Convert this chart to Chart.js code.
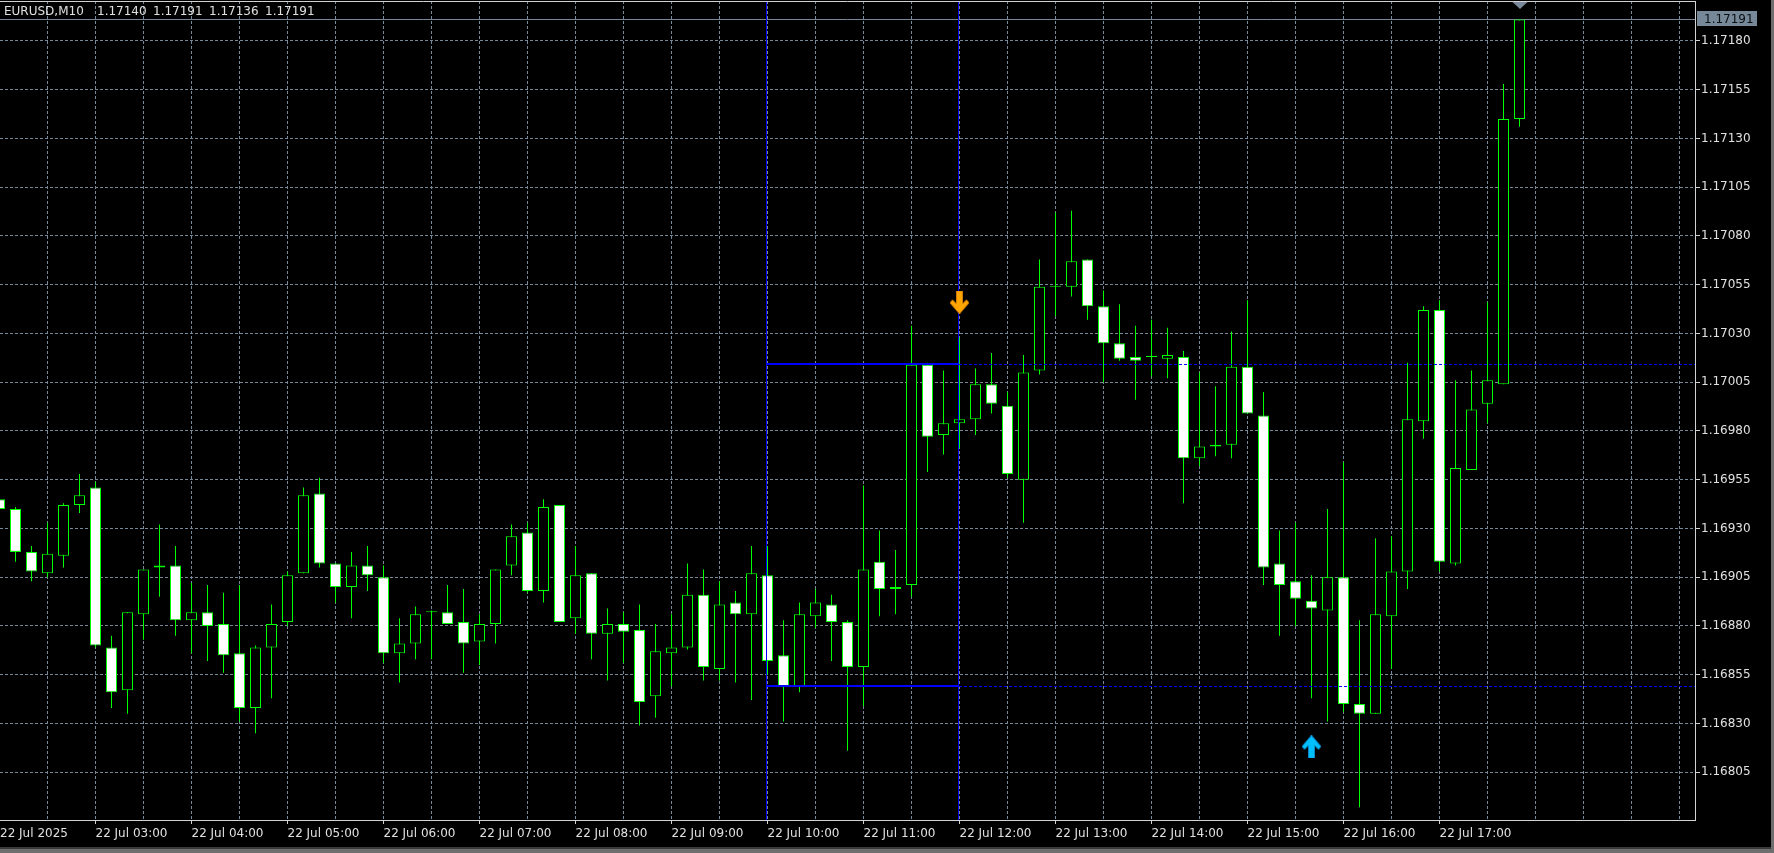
<!DOCTYPE html>
<html>
<head>
<meta charset="utf-8">
<title>EURUSD,M10</title>
<script src="https://cdn.jsdelivr.net/npm/chart.js@4.4.1/dist/chart.umd.min.js"></script>
<style>
    html, body { margin: 0; padding: 0; background: #000; overflow: hidden; }
    #chartBox { position: relative; width: 1774px; height: 853px; background: #000; }
</style>
</head>
<body>
<div id="chartBox"><canvas id="chartCanvas"></canvas></div>
<script>
const symbolName = "EURUSD,M10";

// one bar every 10 minutes, index 0 = 22 Jul 02:00
const openPrices = [
    1.16945, 1.16940, 1.16918, 1.16907, 1.16916, 1.16942, 1.16951, 1.16869, 1.16847, 1.16886,
    1.16911, 1.16911, 1.16883, 1.16887, 1.16881, 1.16866, 1.16838, 1.16869, 1.16882, 1.16907,
    1.16948, 1.16912, 1.16900, 1.16911, 1.16905, 1.16866, 1.16871, 1.16887, 1.16887, 1.16882,
    1.16872, 1.16881, 1.16911, 1.16928, 1.16898, 1.16942, 1.16884, 1.16907, 1.16876, 1.16881,
    1.16878, 1.16844, 1.16866, 1.16869, 1.16896, 1.16858, 1.16892, 1.16886, 1.16906, 1.16865,
    1.16849, 1.16885, 1.16891, 1.16882, 1.16859, 1.16913, 1.16900, 1.16901, 1.17014, 1.16978,
    1.16984, 1.16986, 1.17004, 1.16993, 1.16955, 1.17011, 1.17054, 1.17054, 1.17068, 1.17044,
    1.17025, 1.17018, 1.17018, 1.17017, 1.17018, 1.16966, 1.16973, 1.16973, 1.17013, 1.16988,
    1.16912, 1.16903, 1.16893, 1.16888, 1.16905, 1.16840, 1.16835, 1.16885, 1.16908, 1.16985,
    1.17042, 1.16912, 1.16960, 1.16994, 1.17004, 1.17140
];
const highPrices = [
    1.16950, 1.16941, 1.16921, 1.16933, 1.16943, 1.16958, 1.16954, 1.16875, 1.16887, 1.16909,
    1.16932, 1.16921, 1.16902, 1.16901, 1.16897, 1.16901, 1.16870, 1.16891, 1.16908, 1.16951,
    1.16956, 1.16912, 1.16918, 1.16921, 1.16911, 1.16884, 1.16890, 1.16888, 1.16901, 1.16899,
    1.16886, 1.16909, 1.16932, 1.16933, 1.16945, 1.16942, 1.16921, 1.16907, 1.16889, 1.16887,
    1.16891, 1.16881, 1.16886, 1.16912, 1.16909, 1.16903, 1.16898, 1.16921, 1.16921, 1.16883,
    1.16892, 1.16899, 1.16896, 1.16883, 1.16952, 1.16929, 1.16919, 1.17034, 1.17015, 1.17011,
    1.17028, 1.17012, 1.17020, 1.17000, 1.17019, 1.17068, 1.17092, 1.17093, 1.17068, 1.17052,
    1.17045, 1.17034, 1.17037, 1.17033, 1.17021, 1.17010, 1.17003, 1.17031, 1.17047, 1.17000,
    1.16929, 1.16933, 1.16906, 1.16940, 1.16964, 1.16883, 1.16925, 1.16926, 1.17015, 1.17044,
    1.17047, 1.17006, 1.17011, 1.17046, 1.17158, 1.17191
];
const lowPrices = [
    1.16938, 1.16913, 1.16903, 1.16905, 1.16910, 1.16938, 1.16869, 1.16838, 1.16835, 1.16873,
    1.16895, 1.16875, 1.16866, 1.16862, 1.16856, 1.16831, 1.16825, 1.16843, 1.16880, 1.16907,
    1.16910, 1.16892, 1.16884, 1.16898, 1.16861, 1.16851, 1.16863, 1.16863, 1.16881, 1.16856,
    1.16860, 1.16871, 1.16906, 1.16897, 1.16892, 1.16882, 1.16876, 1.16863, 1.16852, 1.16861,
    1.16829, 1.16833, 1.16849, 1.16868, 1.16852, 1.16852, 1.16851, 1.16842, 1.16855, 1.16831,
    1.16846, 1.16879, 1.16862, 1.16816, 1.16839, 1.16885, 1.16886, 1.16895, 1.16959, 1.16968,
    1.16971, 1.16978, 1.16989, 1.16956, 1.16933, 1.17009, 1.17039, 1.17049, 1.17037, 1.17005,
    1.17016, 1.16996, 1.17008, 1.17007, 1.16943, 1.16962, 1.16967, 1.16966, 1.16989, 1.16901,
    1.16875, 1.16880, 1.16843, 1.16831, 1.16836, 1.16787, 1.16835, 1.16858, 1.16899, 1.16976,
    1.16908, 1.16911, 1.16960, 1.16984, 1.17004, 1.17136
];
const closePrices = [
    1.16940, 1.16918, 1.16908, 1.16917, 1.16942, 1.16947, 1.16870, 1.16846, 1.16887, 1.16909,
    1.16910, 1.16883, 1.16887, 1.16880, 1.16865, 1.16838, 1.16869, 1.16881, 1.16906, 1.16947,
    1.16912, 1.16900, 1.16911, 1.16906, 1.16866, 1.16871, 1.16886, 1.16887, 1.16881, 1.16871,
    1.16881, 1.16909, 1.16926, 1.16898, 1.16941, 1.16882, 1.16906, 1.16876, 1.16881, 1.16877,
    1.16841, 1.16867, 1.16869, 1.16896, 1.16859, 1.16891, 1.16886, 1.16907, 1.16862, 1.16849,
    1.16886, 1.16892, 1.16882, 1.16859, 1.16909, 1.16899, 1.16899, 1.17014, 1.16977, 1.16984,
    1.16986, 1.17004, 1.16994, 1.16958, 1.17010, 1.17054, 1.17054, 1.17067, 1.17044, 1.17025,
    1.17017, 1.17016, 1.17018, 1.17019, 1.16966, 1.16972, 1.16972, 1.17013, 1.16989, 1.16910,
    1.16901, 1.16894, 1.16889, 1.16905, 1.16840, 1.16835, 1.16886, 1.16908, 1.16986, 1.17042,
    1.16913, 1.16961, 1.16991, 1.17006, 1.17140, 1.17191
];

const firstTimeLabel = "22 Jul 2025";
const timeTickIndex = [6, 12, 18, 24, 30, 36, 42, 48, 54, 60, 66, 72, 78, 84, 90];
const timeTickLabels = [
    "22 Jul 03:00", "22 Jul 04:00", "22 Jul 05:00", "22 Jul 06:00", "22 Jul 07:00",
    "22 Jul 08:00", "22 Jul 09:00", "22 Jul 10:00", "22 Jul 11:00", "22 Jul 12:00",
    "22 Jul 13:00", "22 Jul 14:00", "22 Jul 15:00", "22 Jul 16:00", "22 Jul 17:00"
];
const priceTicks = [
    1.16805, 1.16830, 1.16855, 1.16880, 1.16905, 1.16930, 1.16955, 1.16980,
    1.17005, 1.17030, 1.17055, 1.17080, 1.17105, 1.17130, 1.17155, 1.17180
];

// box drawn between two vertical lines
const rangeFrom = 48;
const rangeTo = 60;
const rangeHigh = 1.17014;
const rangeLow = 1.16849;

const sellArrows = [{ x: 60, y: 1.17046 }];
const buyArrows = [{ x: 82, y: 1.16818 }];
const bidPrice = 1.17191;

// visible window of the chart
const xMin = 0.03125;
const xMax = 105.96875;
const yMin = 1.1678051;
const yMax = 1.1720051;

const candleGreen = "#00ff00";
const gridColor = "#778899";
const axisColor = "#d2d2d2";
const textColor = "#e0e0e0";
const uiFont = "\"DejaVu Sans\"";

function makeArrow(fill, edge, pointingUp) {
    let c = document.createElement("canvas");
    c.width = 19;
    c.height = 23;
    let g = c.getContext("2d");
    let pts = [[6.5, 0], [12.5, 0], [12.5, 13], [16.5, 9], [19, 12], [9.5, 23], [0, 12], [2.5, 9], [6.5, 13]];
    g.beginPath();
    pts.forEach((p, i) => {
        let py = pointingUp ? 23 - p[1] : p[1];
        if (i === 0) g.moveTo(p[0], py);
        else g.lineTo(p[0], py);
    });
    g.closePath();
    g.fillStyle = fill;
    g.fill();
    g.strokeStyle = edge;
    g.lineWidth = 1;
    g.stroke();
    return c;
}

function buildCandles() {
    let wicks = [];
    let bodies = [];
    let bodyFill = [];
    for (let i = 0; i < openPrices.length; i++) {
        wicks.push({ x: i, y: [lowPrices[i], highPrices[i]] });
        bodies.push({ x: i, y: [openPrices[i], closePrices[i]] });
        if (closePrices[i] < openPrices[i]) bodyFill.push("#ffffff");
        else if (closePrices[i] > openPrices[i]) bodyFill.push("#000000");
        else bodyFill.push(candleGreen);
    }
    return { wicks, bodies, bodyFill };
}

const overlayPlugin = {
    id: "overlay",
    beforeDatasetsDraw(chart) {
        let { ctx, chartArea, scales } = chart;
        let y = Math.floor(scales.y.getPixelForValue(bidPrice)) + 0.5;
        ctx.save();
        ctx.strokeStyle = gridColor;
        ctx.lineWidth = 1;
        ctx.beginPath();
        ctx.moveTo(chartArea.left, y);
        ctx.lineTo(chartArea.right, y);
        ctx.stroke();
        ctx.restore();
    },
    afterDatasetDraw(chart, args) {
        // range lines go over the candles but under the arrows
        if (args.index !== 0) return;
        let { ctx, chartArea, scales } = chart;
        let x1 = Math.floor(scales.x.getPixelForValue(rangeFrom));
        let x2 = Math.floor(scales.x.getPixelForValue(rangeTo));
        let yHi = Math.floor(scales.y.getPixelForValue(rangeHigh));
        let yLo = Math.floor(scales.y.getPixelForValue(rangeLow));
        ctx.save();
        ctx.strokeStyle = "#0000ff";
        ctx.lineWidth = 1;
        ctx.beginPath();
        ctx.moveTo(x1 - 0.5, chartArea.top);
        ctx.lineTo(x1 - 0.5, chartArea.bottom);
        ctx.moveTo(x2 - 0.5, chartArea.top);
        ctx.lineTo(x2 - 0.5, chartArea.bottom);
        ctx.stroke();
        ctx.lineWidth = 2;
        ctx.beginPath();
        ctx.moveTo(x1, yHi);
        ctx.lineTo(x2, yHi);
        ctx.moveTo(x1, yLo);
        ctx.lineTo(x2, yLo);
        ctx.stroke();
        ctx.lineWidth = 1;
        ctx.setLineDash([3, 2]);
        ctx.beginPath();
        ctx.moveTo(x2, yHi + 0.5);
        ctx.lineTo(chartArea.right, yHi + 0.5);
        ctx.moveTo(x2, yLo + 0.5);
        ctx.lineTo(chartArea.right, yLo + 0.5);
        ctx.stroke();
        ctx.restore();
    },
    afterDraw(chart) {
        let { ctx, chartArea, scales, width, height } = chart;
        ctx.save();

        // frame top edge
        ctx.strokeStyle = axisColor;
        ctx.lineWidth = 1;
        ctx.beginPath();
        ctx.moveTo(0, chartArea.top + 0.5);
        ctx.lineTo(chartArea.right, chartArea.top + 0.5);
        ctx.stroke();

        // header: symbol and last bar OHLC
        ctx.font = "12px " + uiFont;
        ctx.fillStyle = textColor;
        ctx.textBaseline = "middle";
        ctx.textAlign = "left";
        ctx.fillText(symbolName, 4, 12);
        let last = openPrices.length - 1;
        let ohlc = [openPrices[last], highPrices[last], lowPrices[last], closePrices[last]];
        ohlc.forEach((v, i) => ctx.fillText(v.toFixed(5), 97 + i * 56, 12));

        // bid price tag on the axis
        let by = Math.floor(scales.y.getPixelForValue(bidPrice)) + 0.5;
        ctx.fillStyle = gridColor;
        ctx.fillRect(chartArea.right + 2, by - 8.5, 60, 15);
        ctx.fillStyle = "#0a0f14";
        ctx.fillText(bidPrice.toFixed(5), chartArea.right + 9, by);

        // shift marker above the last bar
        let tx = scales.x.getPixelForValue(last);
        ctx.fillStyle = gridColor;
        ctx.beginPath();
        ctx.moveTo(tx - 7, chartArea.top + 1);
        ctx.lineTo(tx + 8, chartArea.top + 1);
        ctx.lineTo(tx + 0.5, chartArea.top + 8);
        ctx.closePath();
        ctx.fill();

        // window border
        ctx.fillStyle = "#6e6e6e";
        ctx.fillRect(width - 3, 0, 3, height);
        ctx.fillRect(0, height - 6, width, 6);
        ctx.fillStyle = "#3a3a3a";
        ctx.fillRect(0, height - 6, width - 3, 2);
        ctx.restore();
    }
};

function drawChart() {
    let canvas = document.getElementById("chartCanvas");
    let ctx = canvas.getContext("2d");
    let candles = buildCandles();

    new Chart(ctx, {
        type: "bar",
        data: {
            datasets: [
                {
                    label: "body",
                    data: candles.bodies,
                    backgroundColor: candles.bodyFill,
                    borderColor: candleGreen,
                    borderWidth: 1,
                    borderSkipped: false,
                    barThickness: 11,
                    minBarLength: 1,
                    grouped: false,
                    inflateAmount: 0,
                    order: 1,
                },
                {
                    label: "wick",
                    data: candles.wicks,
                    backgroundColor: candleGreen,
                    borderWidth: 0,
                    barThickness: 1,
                    grouped: false,
                    inflateAmount: 0,
                    order: 2,
                },
                {
                    type: "scatter",
                    label: "sell",
                    data: sellArrows,
                    pointStyle: makeArrow("#ffa500", "#d07a00", false),
                    order: 0,
                },
                {
                    type: "scatter",
                    label: "buy",
                    data: buyArrows,
                    pointStyle: makeArrow("#00bfff", "#0a86c8", true),
                    order: 0,
                },
            ],
        },
        options: {
            animation: false,
            responsive: true,
            maintainAspectRatio: false,
            events: [],
            layout: { autoPadding: false, padding: { top: 1, left: 0, right: 0, bottom: 0 } },
            plugins: {
                legend: { display: false },
                tooltip: { enabled: false },
            },
            scales: {
                x: {
                    type: "linear",
                    min: xMin,
                    max: xMax,
                    offset: false,
                    afterBuildTicks: (scale) => {
                        let list = [{ value: xMin }];
                        for (let v = 3; v <= xMax; v += 3) list.push({ value: v });
                        scale.ticks = list;
                    },
                    afterFit: (scale) => {
                        scale.height = 33;
                        scale.paddingLeft = 0;
                        scale.paddingRight = 0;
                    },
                    grid: {
                        offset: false,
                        color: (c) => (c.tick && c.tick.value === xMin ? "transparent" : gridColor),
                        tickColor: (c) => (c.tick && timeTickIndex.includes(c.tick.value) ? axisColor : "transparent"),
                        tickLength: 4,
                    },
                    border: { color: axisColor, dash: [3, 2] },
                    ticks: {
                        autoSkip: false,
                        maxRotation: 0,
                        align: "start",
                        padding: 3,
                        color: textColor,
                        font: { family: "DejaVu Sans", size: 12 },
                        callback: (value) => {
                            if (value === xMin) return firstTimeLabel;
                            let k = timeTickIndex.indexOf(value);
                            return k >= 0 ? timeTickLabels[k] : "";
                        },
                    },
                },
                y: {
                    position: "right",
                    min: yMin,
                    max: yMax,
                    afterBuildTicks: (scale) => {
                        scale.ticks = priceTicks.map((v) => ({ value: v }));
                    },
                    afterFit: (scale) => {
                        scale.width = 79;
                        scale.paddingTop = 0;
                        scale.paddingBottom = 0;
                    },
                    grid: {
                        color: gridColor,
                        tickColor: axisColor,
                        tickLength: 5,
                    },
                    border: { color: axisColor, dash: [3, 2] },
                    ticks: {
                        padding: 1,
                        color: textColor,
                        font: { family: "DejaVu Sans", size: 12 },
                        callback: (value) => value.toFixed(5),
                    },
                },
            },
        },
        plugins: [overlayPlugin],
    });
}

drawChart();
</script>
</body>
</html>
